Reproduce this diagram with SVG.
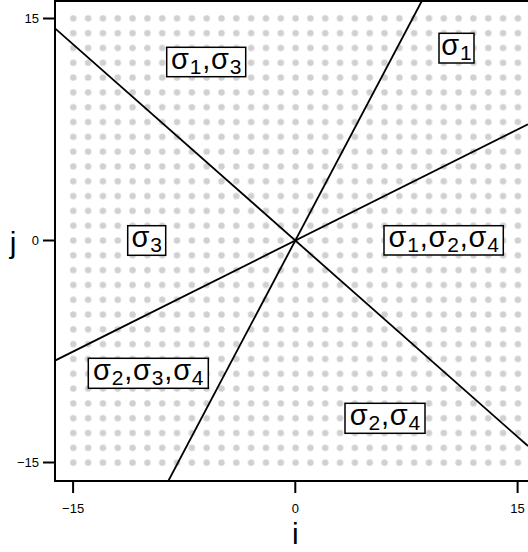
<svg xmlns="http://www.w3.org/2000/svg" width="528" height="552" viewBox="0 0 528 552">
<style>
.lab{font-family:"Liberation Sans",Arial,sans-serif;font-size:29px;fill:#000;letter-spacing:0.8px}
.sub{font-size:21px}
.tick{font-family:"Liberation Sans",Arial,sans-serif;font-size:13px;fill:#000}
.axl{font-family:"Liberation Sans",Arial,sans-serif;font-size:30px;fill:#000}
.box{fill:#fff;stroke:#000;stroke-width:1.5}
.ln{stroke:#000;stroke-width:1.8;fill:none}
</style>
<defs>
<pattern id="dots" patternUnits="userSpaceOnUse" x="65.89" y="10.95" width="14.82" height="14.81">
<circle cx="7.41" cy="7.405" r="3.2" fill="#d0d0d0"/>
</pattern>
<clipPath id="clip"><rect x="55" y="1" width="480" height="480"/></clipPath>
</defs>
<rect width="528" height="552" fill="#fff"/>
<rect x="65.89" y="10.95" width="459.42" height="459.11" fill="url(#dots)"/>
<g id="connectors" clip-path="url(#clip)">
<line class="ln" x1="55" y1="28.3" x2="528" y2="446"/>
<line class="ln" x1="421.8" y1="1" x2="168.3" y2="481"/>
<line class="ln" x1="55" y1="360.6" x2="528" y2="124.2"/>
</g>
<g id="axes">
<path d="M55,1 H535 M55,0 V481 H535" fill="none" stroke="#000" stroke-width="2"/>
<path d="M43,18.4 H55 M43,240.5 H55 M43,462.6 H55 M73.1,481 V493 M295.3,481 V493 M517.6,481 V493" stroke="#000" stroke-width="2"/>
<text class="tick" x="39" y="23" text-anchor="end">15</text>
<text class="tick" x="39" y="245.1" text-anchor="end">0</text>
<text class="tick" x="39" y="467.2" text-anchor="end">−15</text>
<text class="tick" x="73.1" y="512.5" text-anchor="middle">−15</text>
<text class="tick" x="295.3" y="512.5" text-anchor="middle">0</text>
<text class="tick" x="517.6" y="512.5" text-anchor="middle">15</text>
<text class="axl" x="13" y="253" text-anchor="middle">j</text>
<text class="axl" x="295.3" y="544" text-anchor="middle">i</text>
</g>
<g id="n13">
<rect class="box" x="166.7" y="47.3" width="79" height="29.4"/>
<text class="lab" x="206.6" y="68.5" text-anchor="middle">σ<tspan class="sub" dy="5">1</tspan><tspan dy="-5">,σ</tspan><tspan class="sub" dy="5">3</tspan></text>
</g>
<g id="n1">
<rect class="box" x="439" y="33.3" width="35" height="29.7"/>
<text class="lab" x="456.9" y="54.5" text-anchor="middle">σ<tspan class="sub" dy="5">1</tspan></text>
</g>
<g id="n3">
<rect class="box" x="127.7" y="225.7" width="38" height="29.6"/>
<text class="lab" x="147.1" y="247" text-anchor="middle">σ<tspan class="sub" dy="5">3</tspan></text>
</g>
<g id="n124">
<rect class="box" x="384" y="225.7" width="119.3" height="29.3"/>
<text class="lab" x="444.1" y="246.8" text-anchor="middle">σ<tspan class="sub" dy="5">1</tspan><tspan dy="-5">,σ</tspan><tspan class="sub" dy="5">2</tspan><tspan dy="-5">,σ</tspan><tspan class="sub" dy="5">4</tspan></text>
</g>
<g id="n234">
<rect class="box" x="88.3" y="358.3" width="120" height="30"/>
<text class="lab" x="148.7" y="379.7" text-anchor="middle">σ<tspan class="sub" dy="5">2</tspan><tspan dy="-5">,σ</tspan><tspan class="sub" dy="5">3</tspan><tspan dy="-5">,σ</tspan><tspan class="sub" dy="5">4</tspan></text>
</g>
<g id="n24">
<rect class="box" x="345" y="403.3" width="80" height="30"/>
<text class="lab" x="385.4" y="424.7" text-anchor="middle">σ<tspan class="sub" dy="5">2</tspan><tspan dy="-5">,σ</tspan><tspan class="sub" dy="5">4</tspan></text>
</g>
</svg>
